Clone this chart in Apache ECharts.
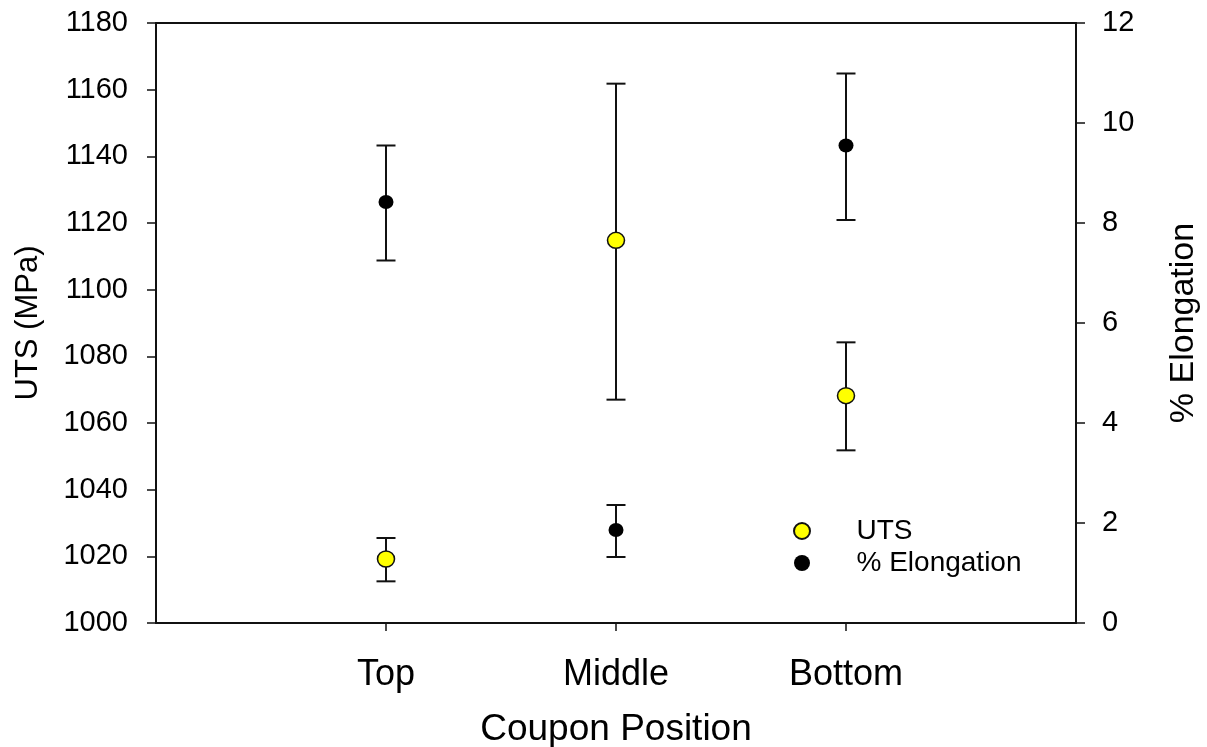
<!DOCTYPE html>
<html>
<head>
<meta charset="utf-8">
<script src="https://cdn.jsdelivr.net/npm/echarts@6/dist/echarts.min.js"></script>
<style>
  html, body { margin: 0; padding: 0; background: #fff; }
  #chart { width: 1207px; height: 747px; }
</style>
</head>
<body>
<div id="chart"></div>
<script>
const CATEGORIES = ['Top', 'Middle', 'Bottom']
const CATEGORY_X = [1, 2, 3]

const UTS = [1019.2, 1114.8, 1068.2]
const UTS_LOW = [1012.5, 1067.0, 1051.8]
const UTS_HIGH = [1025.5, 1161.8, 1084.2]

const ELONG = [8.42, 1.86, 9.55]
const ELONG_LOW = [7.25, 1.32, 8.06]
const ELONG_HIGH = [9.55, 2.36, 10.99]

const FONT = '"Liberation Sans", Arial, sans-serif'
const INK = '#111'

// whisker with caps, drawn in the series' own axis coords
function errorBarItem(params, api) {
  const x = api.value(0)
  const lo = api.coord([x, api.value(1)])
  const hi = api.coord([x, api.value(2)])
  const half = 9.5
  const style = { stroke: INK, lineWidth: 2 }
  return {
    type: 'group',
    children: [
      { type: 'line', shape: { x1: lo[0], y1: lo[1], x2: hi[0], y2: hi[1] }, style },
      { type: 'line', shape: { x1: hi[0] - half, y1: hi[1], x2: hi[0] + half, y2: hi[1] }, style },
      { type: 'line', shape: { x1: lo[0] - half, y1: lo[1], x2: lo[0] + half, y2: lo[1] }, style }
    ]
  }
}

const chart = echarts.init(document.getElementById('chart'))

const axisLine = { show: true, onZero: false, lineStyle: { color: INK, width: 2 } }
const axisTick = { show: true, inside: false, length: 9, lineStyle: { color: INK, width: 1.5 } }
const labelStyle = { color: '#000', fontSize: 29, fontFamily: FONT }

const option = {
  animation: false,
  backgroundColor: '#fff',
  grid: { left: 156, right: 131, top: 23, bottom: 124, outerBoundsMode: 'none', containLabel: false },
  legend: {
    orient: 'vertical',
    left: 793,
    top: 517,
    padding: 0,
    itemWidth: 17,
    itemHeight: 16,
    itemGap: 4,
    icon: 'circle',
    textStyle: { color: '#000', fontSize: 28, fontFamily: FONT, padding: [0, 0, 0, 41] },
    data: ['UTS', '% Elongation']
  },
  xAxis: [
    {
      type: 'value',
      min: 0,
      max: 4,
      interval: 1,
      name: 'Coupon Position',
      nameLocation: 'middle',
      nameGap: 88,
      nameTextStyle: { color: '#000', fontSize: 37, fontFamily: FONT },
      splitLine: { show: false },
      axisLine,
      axisTick: { ...axisTick, length: 8, customValues: CATEGORY_X },
      axisLabel: {
        color: '#000',
        fontSize: 36,
        fontFamily: FONT,
        margin: 34,
        customValues: CATEGORY_X,
        formatter: (v) => CATEGORIES[CATEGORY_X.indexOf(v)] || ''
      }
    },
    {
      type: 'value',
      position: 'top',
      min: 0,
      max: 4,
      axisLine,
      axisTick: { show: false },
      axisLabel: { show: false },
      splitLine: { show: false }
    }
  ],
  yAxis: [
    {
      type: 'value',
      min: 1000,
      max: 1180,
      interval: 20,
      name: 'UTS (MPa)',
      nameLocation: 'middle',
      nameGap: 112,
      nameRotate: 90,
      nameTextStyle: { color: '#000', fontSize: 31, fontFamily: FONT },
      splitLine: { show: false },
      axisLine,
      axisTick,
      axisLabel: { ...labelStyle, margin: 28, formatter: (v) => String(v) }
    },
    {
      type: 'value',
      position: 'right',
      min: 0,
      max: 12,
      interval: 2,
      name: '% Elongation',
      nameLocation: 'middle',
      nameGap: 91,
      nameRotate: 90,
      nameTextStyle: { color: '#000', fontSize: 34, fontFamily: FONT },
      splitLine: { show: false },
      axisLine,
      axisTick,
      axisLabel: { ...labelStyle, margin: 26, formatter: (v) => String(v) }
    }
  ],
  series: [
    {
      type: 'custom',
      name: 'UTS error',
      silent: true,
      xAxisIndex: 0,
      yAxisIndex: 0,
      renderItem: errorBarItem,
      encode: { x: 0, y: [1, 2] },
      data: CATEGORY_X.map((x, i) => [x, UTS_LOW[i], UTS_HIGH[i]]),
      z: 1
    },
    {
      type: 'custom',
      name: 'Elongation error',
      silent: true,
      xAxisIndex: 0,
      yAxisIndex: 1,
      renderItem: errorBarItem,
      encode: { x: 0, y: [1, 2] },
      data: CATEGORY_X.map((x, i) => [x, ELONG_LOW[i], ELONG_HIGH[i]]),
      z: 1
    },
    {
      type: 'scatter',
      name: 'UTS',
      xAxisIndex: 0,
      yAxisIndex: 0,
      symbol: 'circle',
      symbolSize: [17, 16],
      itemStyle: { color: '#ffff00', borderColor: INK, borderWidth: 1.5, opacity: 1 },
      data: CATEGORY_X.map((x, i) => [x, UTS[i]]),
      z: 3
    },
    {
      type: 'scatter',
      name: '% Elongation',
      xAxisIndex: 0,
      yAxisIndex: 1,
      symbol: 'circle',
      symbolSize: [15, 14],
      itemStyle: { color: '#000', opacity: 1 },
      data: CATEGORY_X.map((x, i) => [x, ELONG[i]]),
      z: 3
    }
  ]
}

chart.setOption(option)
</script>
</body>
</html>
